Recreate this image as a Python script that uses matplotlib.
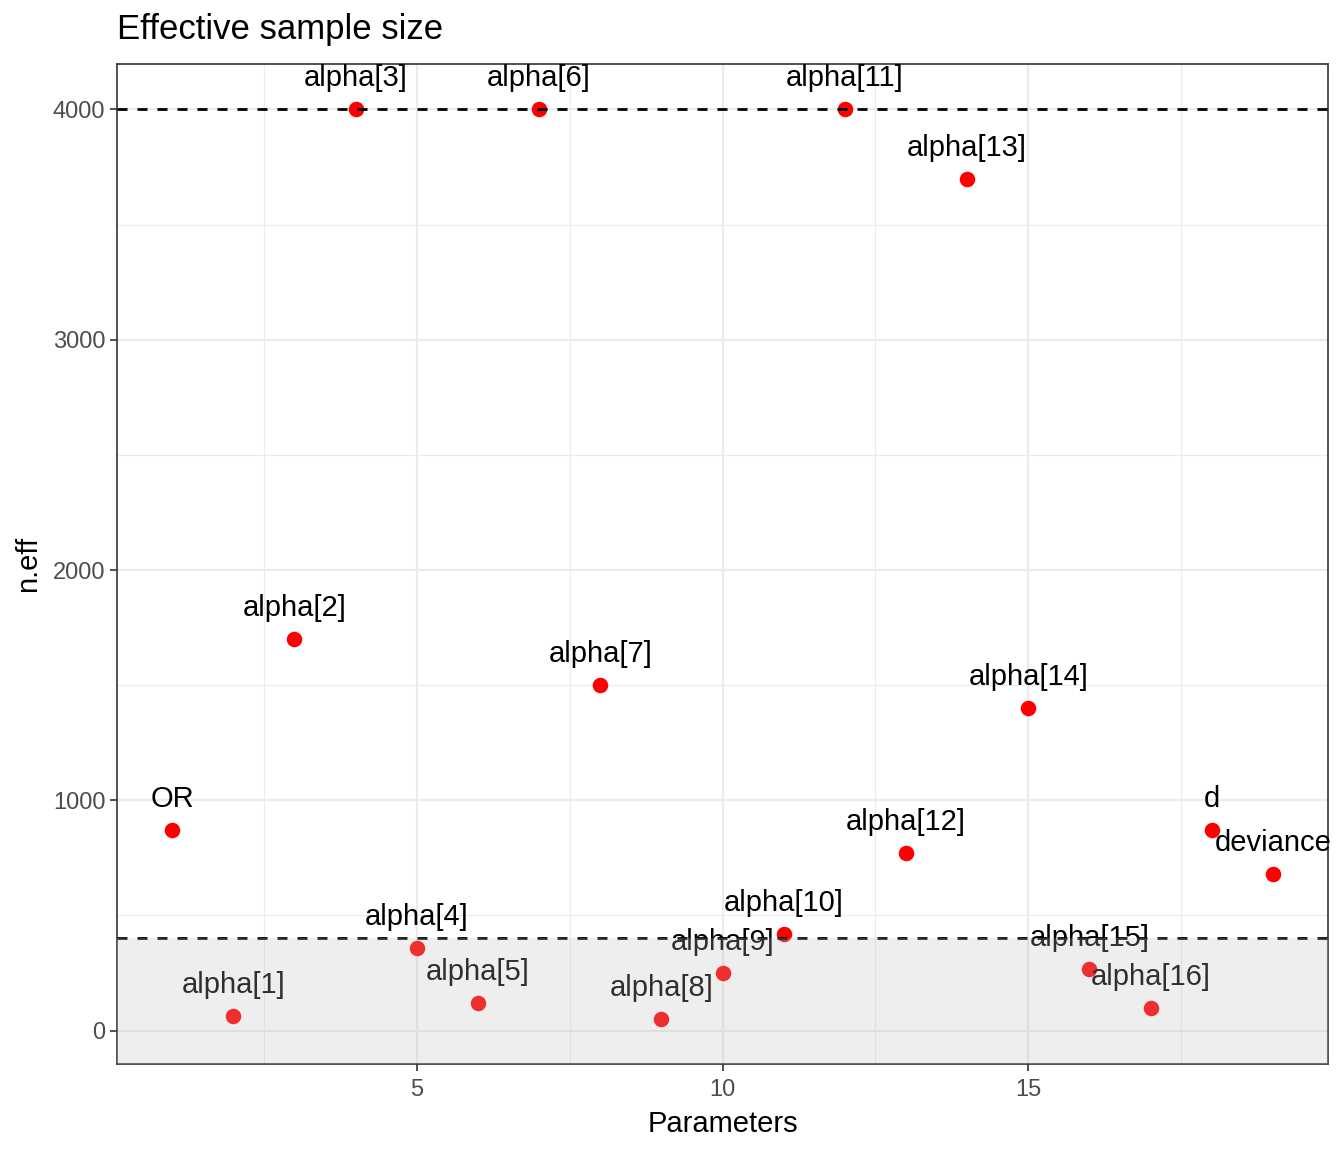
import numpy as np
import matplotlib
matplotlib.use("Agg")
import matplotlib.pyplot as plt

plt.rcParams['font.family'] = ['Liberation Sans', 'DejaVu Sans']

# parameter names and effective sample sizes
params = ['OR', 'alpha[1]', 'alpha[2]', 'alpha[3]', 'alpha[4]', 'alpha[5]',
          'alpha[6]', 'alpha[7]', 'alpha[8]', 'alpha[9]', 'alpha[10]',
          'alpha[11]', 'alpha[12]', 'alpha[13]', 'alpha[14]', 'alpha[15]',
          'alpha[16]', 'd', 'deviance']
n_eff = [870, 65, 1700, 4000, 360, 120, 4000, 1500, 52, 250, 420,
         4000, 770, 3700, 1400, 268, 100, 870, 680]
x = np.arange(1, len(params) + 1)

upper_line = 4000
lower_line = 400

fig = plt.figure(figsize=(13.44, 11.52), dpi=100)
ax = fig.add_axes([0.0871, 0.0764, 0.9010, 0.8680])

# grid like theme_bw
for v in [2.5, 7.5, 12.5, 17.5]:
    ax.axvline(v, color='#ebebeb', lw=0.8, zorder=0)
for v in [500, 1500, 2500, 3500]:
    ax.axhline(v, color='#ebebeb', lw=0.8, zorder=0)
for v in [5, 10, 15]:
    ax.axvline(v, color='#ebebeb', lw=1.6, zorder=0)
for v in [0, 1000, 2000, 3000, 4000]:
    ax.axhline(v, color='#ebebeb', lw=1.6, zorder=0)

ax.scatter(x, n_eff, s=125, color='red', zorder=3, linewidths=0)
for xi, yi, lab in zip(x, n_eff, params):
    ax.annotate(lab, (xi, yi), xytext=(0, 31), textcoords='offset pixels',
                ha='center', va='center', fontsize=21, color='black', zorder=4)

ax.axhline(upper_line, color='black', lw=2.0, ls=(0, (3.6, 3.6)), zorder=5)
ax.axhline(lower_line, color='black', lw=2.0, ls=(0, (3.6, 3.6)), zorder=5)
ax.axhspan(-1000, lower_line, color='#bebebe', alpha=0.25, lw=0, zorder=6)

ax.set_xlim(0.1, 19.9)
ax.set_ylim(-145, 4197)
ax.set_xticks([5, 10, 15])
ax.set_yticks([0, 1000, 2000, 3000, 4000])
ax.tick_params(labelsize=17, labelcolor='#4d4d4d', color='#333333',
               length=5, width=1.2)
ax.tick_params(axis='x', pad=6)
for s in ax.spines.values():
    s.set_color('#333333')
    s.set_linewidth(1.2)

ax.set_xlabel('Parameters', fontsize=21, labelpad=6)
ax.set_ylabel('n.eff', fontsize=21, labelpad=8)
ax.set_title('Effective sample size', fontsize=25, loc='left', pad=18)

fig.savefig('out.png', dpi=100)
